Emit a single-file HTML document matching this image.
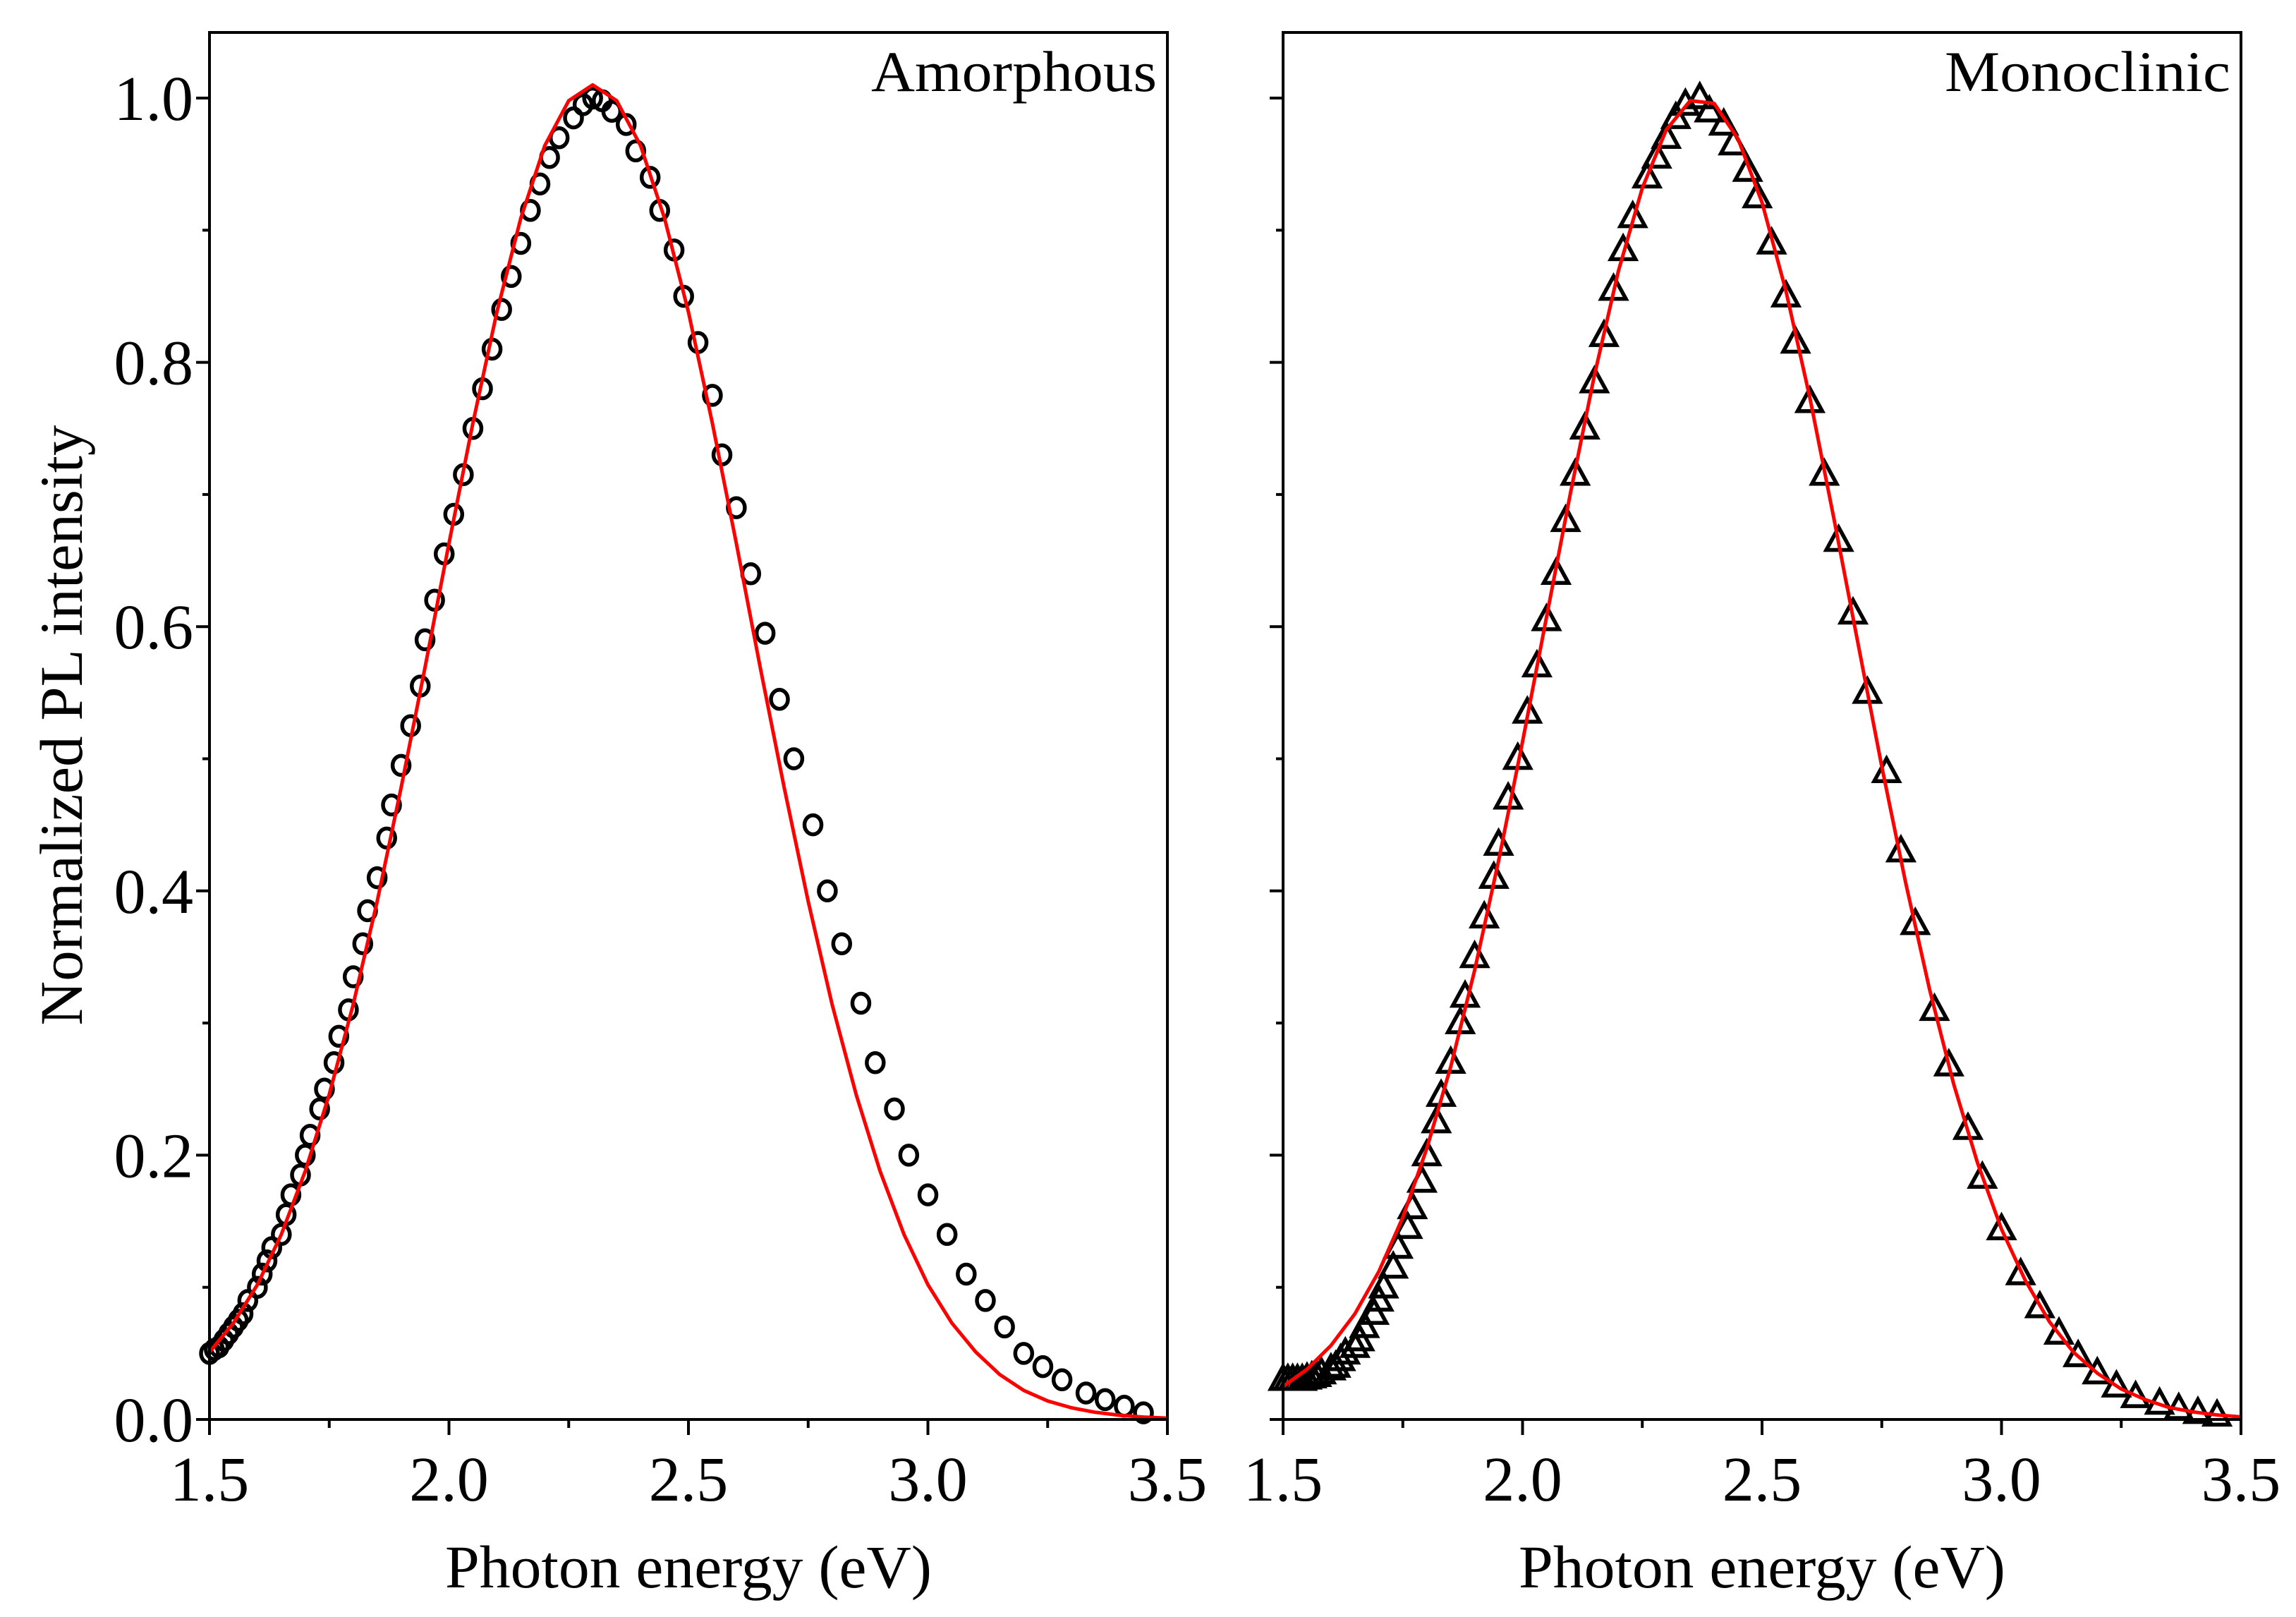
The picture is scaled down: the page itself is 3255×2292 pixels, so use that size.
<!DOCTYPE html>
<html><head><meta charset="utf-8">
<style>
html,body{margin:0;padding:0;background:#fff;}
svg{display:block;}
text{font-family:"Liberation Serif",serif;fill:#000;}
</style></head>
<body>
<svg id="chart" width="3255" height="2292" viewBox="0 0 3255 2292" xmlns="http://www.w3.org/2000/svg"></svg>
<script>
// ---- data ----
const xTicks = [1.5, 2.0, 2.5, 3.0, 3.5];
const xTickLabels = ["1.5", "2.0", "2.5", "3.0", "3.5"];
const yTicks = [0.0, 0.2, 0.4, 0.6, 0.8, 1.0];
const yTickLabels = ["0.0", "0.2", "0.4", "0.6", "0.8", "1.0"];

const dataEnergy = [3.45,3.41,3.37,3.33,3.28,3.24,3.20,3.16,3.12,3.08,3.04,3.00,2.96,2.93,2.89,2.86,2.82,2.79,2.76,2.72,2.69,2.66,2.63,2.60,2.57,2.55,2.52,2.49,2.47,2.44,2.42,2.39,2.37,2.34,2.32,2.30,2.28,2.26,2.23,2.21,2.19,2.17,2.15,2.13,2.11,2.09,2.07,2.05,2.03,2.01,1.99,1.97,1.95,1.94,1.92,1.90,1.88,1.87,1.85,1.83,1.82,1.80,1.79,1.77,1.76,1.74,1.73,1.71,1.70,1.69,1.67,1.66,1.65,1.63,1.62,1.61,1.60,1.58,1.57,1.56,1.55,1.54,1.53,1.52,1.51,1.50];
const amorphousData = [0.005,0.01,0.015,0.02,0.03,0.04,0.05,0.07,0.09,0.11,0.14,0.17,0.20,0.235,0.27,0.315,0.36,0.40,0.45,0.50,0.545,0.595,0.64,0.69,0.73,0.775,0.815,0.85,0.885,0.915,0.94,0.96,0.98,0.99,0.998,1.0,0.995,0.985,0.97,0.955,0.935,0.915,0.89,0.865,0.84,0.81,0.78,0.75,0.715,0.685,0.655,0.62,0.59,0.555,0.525,0.495,0.465,0.44,0.41,0.385,0.36,0.335,0.31,0.29,0.27,0.25,0.235,0.215,0.20,0.185,0.17,0.155,0.14,0.13,0.12,0.11,0.10,0.09,0.08,0.075,0.07,0.065,0.06,0.055,0.053,0.05];
const monoclinicData = [0.003,0.005,0.008,0.012,0.017,0.025,0.035,0.048,0.065,0.085,0.11,0.144,0.183,0.22,0.268,0.31,0.375,0.43,0.49,0.55,0.61,0.665,0.715,0.77,0.815,0.85,0.89,0.925,0.945,0.965,0.98,0.99,1.0,0.995,0.985,0.97,0.955,0.94,0.91,0.885,0.855,0.82,0.785,0.75,0.715,0.68,0.64,0.605,0.57,0.535,0.50,0.47,0.435,0.41,0.38,0.35,0.32,0.30,0.27,0.245,0.225,0.20,0.18,0.16,0.145,0.13,0.115,0.10,0.09,0.08,0.07,0.06,0.055,0.05,0.045,0.04,0.038,0.035,0.033,0.032,0.031,0.03,0.03,0.03,0.03,0.03];

const fitEnergy = [1.50,1.55,1.60,1.65,1.70,1.75,1.80,1.85,1.90,1.95,2.00,2.05,2.10,2.15,2.20,2.25,2.30,2.35,2.40,2.45,2.50,2.55,2.60,2.65,2.70,2.75,2.80,2.85,2.90,2.95,3.00,3.05,3.10,3.15,3.20,3.25,3.30,3.35,3.40,3.45,3.50];
const amorphousFit = [0.051,0.073,0.102,0.140,0.188,0.246,0.314,0.392,0.478,0.569,0.663,0.754,0.838,0.909,0.964,0.998,1.01,0.998,0.964,0.909,0.838,0.754,0.663,0.569,0.478,0.392,0.314,0.246,0.188,0.140,0.102,0.073,0.051,0.034,0.022,0.014,0.0088,0.0054,0.0032,0.0018,0.0010];
const monoclinicFit = [0.025,0.038,0.056,0.080,0.112,0.153,0.205,0.267,0.340,0.423,0.513,0.607,0.701,0.790,0.869,0.932,0.976,0.998,0.996,0.969,0.921,0.854,0.773,0.682,0.588,0.494,0.406,0.325,0.254,0.194,0.144,0.105,0.074,0.051,0.035,0.023,0.015,0.009,0.0057,0.0034,0.0020];

// ---- layout ----
const NS = "http://www.w3.org/2000/svg";
const svg = document.getElementById("chart");
const TOP = 46, BOT = 2012;
const Y1 = 139; // y of value 1.0
function yScale(v){ return BOT - (BOT - Y1) * v; }
function mk(tag, attrs, parent){
  const e = document.createElementNS(NS, tag);
  for (const k in attrs) e.setAttribute(k, attrs[k]);
  (parent || svg).appendChild(e);
  return e;
}

const panels = [
  {key:"amorphous", left:297, right:1655, label:"Amorphous", data:amorphousData, fit:amorphousFit, marker:"circle", showY:true},
  {key:"monoclinic", left:1819, right:3177, label:"Monoclinic", data:monoclinicData, fit:monoclinicFit, marker:"triangle", showY:false}
];

panels.forEach(p => {
  const xScale = e => p.left + (e - 1.5) / 2.0 * (p.right - p.left);
  const g = mk("g", {});
  
  

  // markers
  const mg = mk("g", {fill:"none", stroke:"#000", "stroke-width":5.5}, g);
  
  
  dataEnergy.forEach((e,i) => {
    const cx = xScale(e), cy = yScale(p.data[i]);
    let m;
    if (p.marker === "circle") {
      m = mk("ellipse", {cx:cx, cy:cy, rx:12, ry:13.5}, mg);
    } else {
      m = mk("polygon", {points:(cx)+","+(cy-19)+" "+(cx-17.5)+","+(cy+13)+" "+(cx+17.5)+","+(cy+13)}, mg);
    }
    
    
  });

  // fit line
  let d = "";
  fitEnergy.forEach((e,i) => { d += (i ? "L" : "M") + xScale(e).toFixed(1) + "," + yScale(p.fit[i]).toFixed(1); });
  const fl = mk("path", {d:d, fill:"none", stroke:"#f00", "stroke-width":5, "stroke-linejoin":"round"}, g);
  
  

  // frame
  const fr = mk("rect", {x:p.left, y:TOP, width:p.right-p.left, height:BOT-TOP, fill:"none", stroke:"#000", "stroke-width":4}, g);
  
  

  // y ticks
  for (let v = 0; v <= 1.0001; v += 0.1) {
    const major = Math.round(v*10) % 2 === 0;
    const t = mk("line", {x1:p.left - (major ? 19 : 10), x2:p.left, y1:yScale(v), y2:yScale(v), stroke:"#000", "stroke-width":4}, g);
    
    
  }
  if (p.showY) {
    yTicks.forEach((v,i) => {
      const t = mk("text", {x:274, y:yScale(v)+31, "text-anchor":"end", "font-size":90}, g);
      t.textContent = yTickLabels[i];
      
      
    });
  }
  // x ticks
  for (let e = 1.5; e <= 3.5001; e += 0.25) {
    const major = Math.round((e-1.5)*4) % 2 === 0;
    const t = mk("line", {x1:xScale(e), x2:xScale(e), y1:BOT, y2:BOT + (major ? 22 : 12), stroke:"#000", "stroke-width":4}, g);
    
    
  }
  xTicks.forEach((e,i) => {
    const t = mk("text", {x:xScale(e), y:2127, "text-anchor":"middle", "font-size":90}, g);
    t.textContent = xTickLabels[i];
    
    
  });
  // x title
  const xt = mk("text", {x:(p.left+p.right)/2, y:2250, "text-anchor":"middle", "font-size":86, textLength:690, lengthAdjust:"spacingAndGlyphs"}, g);
  xt.textContent = "Photon energy (eV)";
  
  
  // panel label
  const pl = mk("text", {x:p.right - 15, y:129, "text-anchor":"end", "font-size":82, textLength:405, lengthAdjust:"spacingAndGlyphs"}, g);
  pl.textContent = p.label;
  
  
});

// y title
const yt = mk("text", {x:0, y:0, "text-anchor":"middle", "font-size":86, textLength:851, lengthAdjust:"spacingAndGlyphs", transform:"translate(116,1028) rotate(-90)"});
yt.textContent = "Normalized PL intensity";


</script>
</body></html>
